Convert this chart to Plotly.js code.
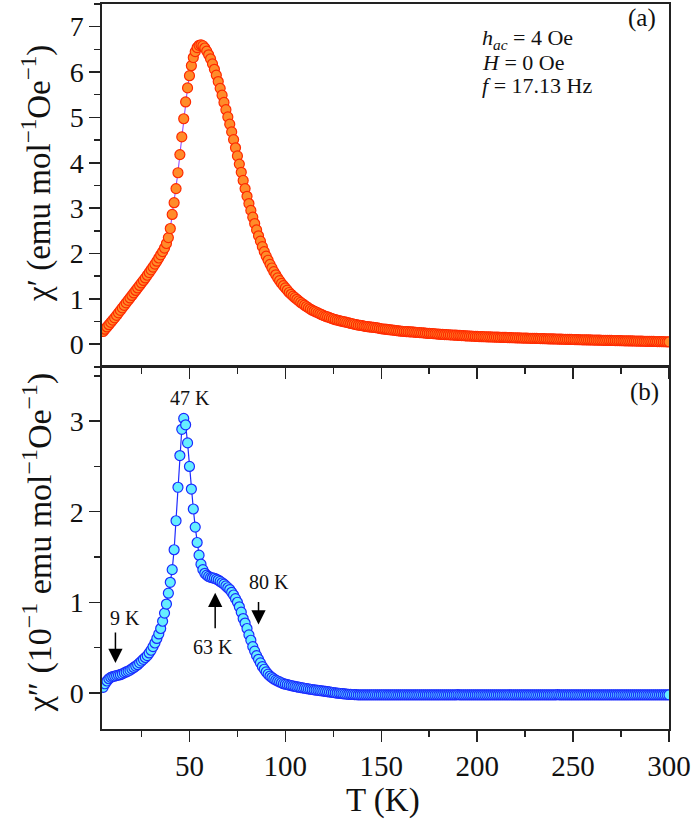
<!DOCTYPE html>
<html><head><meta charset="utf-8">
<script src="https://cdn.plot.ly/plotly-3.0.1.min.js"></script>
<style>html,body{margin:0;padding:0;background:#fff}#chart{width:696px;height:822px}</style>
</head><body><div id="chart"></div>
<script>
// Temperature (K), 5..300 K
const temperature = [
  5,6,7,8,9,10,11,12,13,14,
  15,16,17,18,19,20,21,22,23,24,
  25,26,27,28,29,30,31,32,33,34,
  35,36,37,38,39,40,41,42,43,44,
  45,46,47,48,49,50,51,52,53,54,
  55,56,57,58,59,60,61,62,63,64,
  65,66,67,68,69,70,71,72,73,74,
  75,76,77,78,79,80,81,82,83,84,
  85,86,87,88,89,90,91,92,93,94,
  95,96,97,98,99,100,101,102,103,104,
  105,106,107,108,109,110,111,112,113,114,
  115,116,117,118,119,120,121,122,123,124,
  125,126,127,128,129,130,131,132,133,134,
  135,136,137,138,139,140,141,142,143,144,
  145,146,147,148,149,150,151,152,153,154,
  155,156,157,158,159,160,161,162,163,164,
  165,166,167,168,169,170,171,172,173,174,
  175,176,177,178,179,180,181,182,183,184,
  185,186,187,188,189,190,191,192,193,194,
  195,196,197,198,199,200,201,202,203,204,
  205,206,207,208,209,210,211,212,213,214,
  215,216,217,218,219,220,221,222,223,224,
  225,226,227,228,229,230,231,232,233,234,
  235,236,237,238,239,240,241,242,243,244,
  245,246,247,248,249,250,251,252,253,254,
  255,256,257,258,259,260,261,262,263,264,
  265,266,267,268,269,270,271,272,273,274,
  275,276,277,278,279,280,281,282,283,284,
  285,286,287,288,289,290,291,292,293,294,
  295,296,297,298,299,300
];
// chi' (emu mol^-1 Oe^-1), panel (a)
const chiReal = [
  0.28,0.33,0.38,0.43,0.48,0.53,0.58,0.635,0.69,0.745,
  0.80,0.855,0.91,0.965,1.02,1.075,1.13,1.185,1.24,1.295,
  1.35,1.405,1.46,1.52,1.58,1.64,1.70,1.765,1.83,1.90,
  1.97,2.04,2.12,2.22,2.35,2.55,2.86,3.12,3.43,3.78,
  4.18,4.57,4.97,5.34,5.65,5.92,6.14,6.32,6.45,6.54,
  6.59,6.60,6.58,6.53,6.46,6.38,6.29,6.18,6.06,5.93,
  5.79,5.64,5.49,5.33,5.17,5.01,4.85,4.68,4.51,4.33,
  4.15,3.97,3.79,3.61,3.43,3.26,3.10,2.95,2.80,2.66,
  2.52,2.39,2.27,2.15,2.04,1.94,1.85,1.76,1.68,1.60,
  1.53,1.46,1.40,1.34,1.29,1.24,1.19,1.14,1.10,1.06,
  1.025,0.99,0.955,0.92,0.89,0.86,0.83,0.80,0.775,0.75,
  0.73,0.71,0.69,0.67,0.65,0.63,0.615,0.60,0.585,0.57,
  0.555,0.54,0.53,0.52,0.51,0.50,0.49,0.48,0.47,0.46,
  0.45,0.44,0.43,0.42,0.415,0.41,0.40,0.39,0.385,0.38,
  0.375,0.37,0.365,0.36,0.35,0.34,0.335,0.33,0.325,0.32,
  0.315,0.31,0.305,0.30,0.295,0.29,0.285,0.28,0.278,0.275,
  0.272,0.27,0.265,0.26,0.258,0.255,0.252,0.25,0.245,0.24,
  0.238,0.235,0.232,0.23,0.225,0.22,0.218,0.215,0.212,0.21,
  0.208,0.205,0.202,0.20,0.198,0.195,0.192,0.19,0.188,0.185,
  0.182,0.18,0.178,0.175,0.172,0.17,0.168,0.167,0.165,0.164,
  0.162,0.161,0.160,0.158,0.157,0.155,0.154,0.152,0.151,0.149,
  0.148,0.146,0.145,0.143,0.142,0.140,0.139,0.138,0.136,0.135,
  0.134,0.133,0.131,0.130,0.129,0.128,0.126,0.125,0.124,0.123,
  0.121,0.120,0.119,0.118,0.116,0.115,0.114,0.113,0.111,0.110,
  0.109,0.108,0.106,0.105,0.104,0.103,0.101,0.100,0.099,0.098,
  0.097,0.096,0.095,0.094,0.093,0.092,0.091,0.090,0.089,0.088,
  0.087,0.086,0.085,0.084,0.083,0.082,0.081,0.080,0.079,0.078,
  0.077,0.076,0.075,0.074,0.073,0.072,0.071,0.070,0.069,0.068,
  0.067,0.066,0.065,0.064,0.063,0.062,0.061,0.060,0.059,0.058,
  0.057,0.056,0.055,0.054,0.053,0.052
];
// chi'' (10^-1 emu mol^-1 Oe^-1), panel (b)
const chiImag = [
  0.06,0.10,0.13,0.155,0.17,0.18,0.185,0.19,0.195,0.20,
  0.21,0.22,0.23,0.24,0.25,0.265,0.28,0.295,0.31,0.33,
  0.35,0.37,0.39,0.41,0.44,0.47,0.51,0.55,0.60,0.65,
  0.71,0.79,0.88,0.98,1.10,1.22,1.36,1.58,1.90,2.27,
  2.62,2.91,3.03,2.96,2.76,2.50,2.25,2.03,1.83,1.66,
  1.52,1.42,1.36,1.32,1.30,1.285,1.275,1.27,1.265,1.255,
  1.245,1.23,1.215,1.20,1.18,1.16,1.14,1.11,1.08,1.04,
  1.00,0.95,0.89,0.82,0.77,0.71,0.64,0.58,0.51,0.46,
  0.41,0.37,0.33,0.29,0.26,0.23,0.205,0.185,0.168,0.153,
  0.14,0.13,0.12,0.11,0.10,0.095,0.09,0.085,0.08,0.075,
  0.07,0.066,0.062,0.058,0.054,0.05,0.046,0.043,0.039,0.036,
  0.033,0.03,0.027,0.024,0.021,0.018,0.015,0.012,0.009,0.006,
  0.003,0.0,-0.003,-0.005,-0.008,-0.01,-0.013,-0.015,-0.017,-0.018,
  -0.019,-0.02,-0.021,-0.022,-0.022,-0.022,-0.022,-0.022,-0.022,-0.022,
  -0.022,-0.022,-0.023,-0.023,-0.022,-0.022,-0.022,-0.023,-0.023,-0.022,
  -0.022,-0.022,-0.022,-0.023,-0.022,-0.022,-0.022,-0.022,-0.023,-0.022,
  -0.022,-0.022,-0.022,-0.022,-0.022,-0.022,-0.023,-0.022,-0.022,-0.022,
  -0.022,-0.022,-0.022,-0.022,-0.022,-0.022,-0.022,-0.022,-0.022,-0.022,
  -0.022,-0.022,-0.022,-0.022,-0.022,-0.021,-0.022,-0.022,-0.022,-0.022,
  -0.022,-0.022,-0.022,-0.022,-0.022,-0.022,-0.022,-0.022,-0.022,-0.022,
  -0.022,-0.022,-0.022,-0.022,-0.022,-0.022,-0.022,-0.022,-0.022,-0.022,
  -0.022,-0.022,-0.022,-0.023,-0.022,-0.022,-0.022,-0.022,-0.022,-0.022,
  -0.022,-0.022,-0.022,-0.022,-0.022,-0.022,-0.022,-0.022,-0.022,-0.022,
  -0.022,-0.022,-0.022,-0.022,-0.022,-0.022,-0.022,-0.021,-0.022,-0.022,
  -0.022,-0.022,-0.022,-0.022,-0.022,-0.022,-0.022,-0.022,-0.022,-0.022,
  -0.022,-0.022,-0.022,-0.022,-0.022,-0.022,-0.022,-0.022,-0.022,-0.022,
  -0.022,-0.022,-0.022,-0.022,-0.022,-0.022,-0.022,-0.022,-0.022,-0.022,
  -0.022,-0.022,-0.022,-0.022,-0.022,-0.022,-0.022,-0.022,-0.022,-0.022,
  -0.022,-0.022,-0.022,-0.022,-0.022,-0.022,-0.022,-0.022,-0.022,-0.022,
  -0.022,-0.022,-0.022,-0.022,-0.022,-0.022
];
const xTickVals = [50,100,150,200,250,300];
const xMinorVals = [25,75,125,175,225,275];
const yTopTicks = [0,1,2,3,4,5,6,7];
const yBotTicks = [0,1,2,3];

const FONT = 'Liberation Serif, Times New Roman, serif';
const AX = '#222';

const traces = [
  {x: temperature, y: chiReal, xaxis: 'x2', yaxis: 'y2', type: 'scatter', mode: 'lines+markers',
   line: {color: '#8a3cff', width: 1},
   marker: {size: 10, color: '#ff8c2a', line: {color: '#ff2a00', width: 1.2}},
   cliponaxis: true, showlegend: false},
  {x: temperature, y: chiImag, xaxis: 'x', yaxis: 'y', type: 'scatter', mode: 'lines+markers',
   line: {color: '#1f2bff', width: 1.2},
   marker: {size: 10, color: '#66eeff', line: {color: '#1a2aff', width: 1.2}},
   cliponaxis: true, showlegend: false}
];

function xax(extra) {
  return Object.assign({
    range: [4.4, 300], tickvals: xTickVals, ticks: 'outside', ticklen: 11, tickwidth: 1.5, tickcolor: AX,
    showline: true, linecolor: AX, linewidth: 1.6, mirror: true, showgrid: false, zeroline: false,
    minor: {tickvals: xMinorVals, ticks: 'outside', ticklen: 6, tickwidth: 1.5, tickcolor: AX, showgrid: false},
    tickfont: {family: FONT, size: 29, color: '#111'}
  }, extra);
}
function yax(extra) {
  return Object.assign({
    ticks: 'outside', ticklen: 11, tickwidth: 1.5, tickcolor: AX,
    showline: true, linecolor: AX, linewidth: 1.6, mirror: true, showgrid: false, zeroline: false,
    minor: {dtick: 0.5, ticks: 'outside', ticklen: 6, tickwidth: 1.5, tickcolor: AX, showgrid: false},
    tickfont: {family: FONT, size: 28, color: '#111'}
  }, extra);
}

const ann = [];
function txt(text, x, y, size, opts) {
  ann.push(Object.assign({text: text, x: x, y: y, showarrow: false, xanchor: 'center', yanchor: 'middle',
    font: {family: FONT, size: size, color: '#111'}}, opts));
}
// axis titles
txt('χ′ (emu mol<sup>−1</sup>Oe<sup>−1</sup>)', -0.1147, 0.767, 33, {xref: 'paper', yref: 'paper', textangle: -90});
txt('χ″ (10<sup>−1</sup> emu mol<sup>−1</sup>Oe<sup>−1</sup>)', -0.1147, 0.2575, 34, {xref: 'paper', yref: 'paper', textangle: -90});
txt('T (K)', 0.496, -0.0985, 33, {xref: 'paper', yref: 'paper'});
// panel (a)
txt('(a)', 286, 7.2, 25, {xref: 'x2', yref: 'y2'});
txt('<i>h</i><sub><i>ac</i></sub> = 4 Oe', 0.666, 6.72, 22, {xref: 'paper', yref: 'y2', xanchor: 'left'});
txt('<i>H</i> = 0 Oe', 0.666, 6.2, 22, {xref: 'paper', yref: 'y2', xanchor: 'left'});
txt('<i>f</i> = 17.13 Hz', 0.666, 5.7, 22, {xref: 'paper', yref: 'y2', xanchor: 'left'});
// panel (b)
txt('(b)', 287, 3.32, 25, {xref: 'x', yref: 'y'});
txt('47 K', 50.4, 3.26, 20, {xref: 'x', yref: 'y'});
txt('9 K', 16.6, 0.83, 20, {xref: 'x', yref: 'y'});
txt('63 K', 62.5, 0.51, 20, {xref: 'x', yref: 'y'});
txt('80 K', 91.7, 1.22, 20, {xref: 'x', yref: 'y'});
// arrows
function arrow(x, y, ay) {
  ann.push({x: x, y: y, xref: 'x', yref: 'y', text: '', showarrow: true, ax: 0, ay: ay,
    arrowhead: 2, arrowsize: 1.9, arrowwidth: 1.5, arrowcolor: '#000', standoff: 0, startstandoff: 0});
}
arrow(11.4, 0.33, -32);
arrow(63.4, 1.105, 37);
arrow(86, 0.755, -24);

const layout = {
  width: 696, height: 822,
  margin: {l: 102, r: 27, t: 4, b: 93},
  paper_bgcolor: '#fff', plot_bgcolor: '#fff',
  showlegend: false,
  font: {family: FONT, color: '#111'},
  xaxis: xax({anchor: 'y', domain: [0, 1]}),
  xaxis2: xax({anchor: 'y2', domain: [0, 1], matches: 'x', showticklabels: false}),
  yaxis: yax({anchor: 'x', domain: [0, 0.4995], range: [-0.4, 3.6], tickvals: yBotTicks}),
  yaxis2: yax({anchor: 'x2', domain: [0.4995, 1], range: [-0.5, 7.5], tickvals: yTopTicks}),
  annotations: ann
};

Plotly.newPlot('chart', traces, layout, {displayModeBar: false, staticPlot: true});
</script>
</body></html>
